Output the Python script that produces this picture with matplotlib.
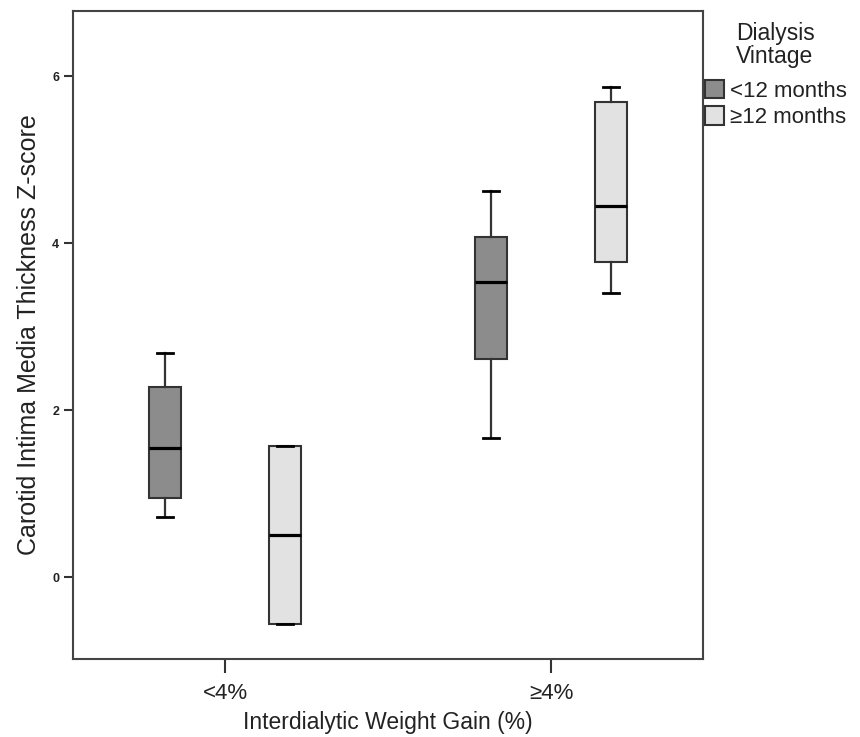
import matplotlib
matplotlib.use("Agg")
import matplotlib.pyplot as plt
from matplotlib.patches import Patch

plt.rcParams['font.family'] = ['Liberation Sans', 'DejaVu Sans']

# ---- data ----
categories = ['<4%', '≥4%']
groups = ['<12 months', '≥12 months']
# <12 months
lt12_whislo = [0.72, 1.67]
lt12_q1 = [0.95, 2.61]
lt12_med = [1.55, 3.54]
lt12_q3 = [2.28, 4.08]
lt12_whishi = [2.68, 4.63]
# >=12 months
ge12_whislo = [-0.56, 3.40]
ge12_q1 = [-0.56, 3.78]
ge12_med = [0.50, 4.44]
ge12_q3 = [1.57, 5.69]
ge12_whishi = [1.57, 5.87]
y_ticks = [0, 2, 4, 6]

colors = ['#8c8c8c', '#e2e2e2']
edge = '#333333'
text_c = '#222222'

fig = plt.figure(figsize=(8.6, 7.37), dpi=100)
ax = fig.add_axes([0.0849, 0.1058, 0.8174 - 0.0849, 0.985 - 0.1058])

offset = 0.184
width = 0.098
series = [
    (lt12_whislo, lt12_q1, lt12_med, lt12_q3, lt12_whishi),
    (ge12_whislo, ge12_q1, ge12_med, ge12_q3, ge12_whishi),
]
for gi, (wl, q1, med, q3, wh) in enumerate(series):
    stats = []
    for ci in range(len(categories)):
        stats.append(dict(whislo=wl[ci], q1=q1[ci], med=med[ci], q3=q3[ci],
                          whishi=wh[ci], fliers=[]))
    pos = [ci + (-offset if gi == 0 else offset) for ci in range(len(categories))]
    ax.bxp(stats, positions=pos, widths=width, capwidths=width / 2,
           patch_artist=True, showfliers=False, manage_ticks=False,
           boxprops=dict(facecolor=colors[gi], edgecolor=edge, linewidth=1.5),
           medianprops=dict(color='black', linewidth=2.3),
           whiskerprops=dict(color=edge, linewidth=1.6),
           capprops=dict(color='black', linewidth=2.0))

ax.set_xlim(-0.466, 1.466)
ax.set_ylim(-0.98, 6.78)
ax.set_xticks(range(len(categories)))
ax.set_xticklabels(categories, fontsize=16, color=text_c)
ax.set_yticks(y_ticks)
ax.set_yticklabels([str(t) for t in y_ticks], fontsize=9, fontweight='bold', color=text_c)
ax.tick_params(axis='y', length=6.5, width=1.5, color='#333333', pad=3.5)
ax.tick_params(axis='x', length=10, width=1.5, color='#333333', pad=7)
for s in ax.spines.values():
    s.set_color('#444444')
    s.set_linewidth(1.5)

ax.set_xlabel('Interdialytic Weight Gain (%)', fontsize=16.5, color=text_c, labelpad=5.5)
ax.set_ylabel('Carotid Intima Media Thickness Z-score', fontsize=18, color=text_c, labelpad=8)

fig.text(775 / 860, 1 - 45 / 737, 'Dialysis\nVintage', ha='center', va='center',
         fontsize=16.5, color=text_c, linespacing=1.0)

handles = [Patch(facecolor=colors[i], edgecolor=edge, linewidth=1.5) for i in range(2)]
leg = fig.legend(handles, groups, loc='upper left',
                 bbox_to_anchor=(705 / 860, 1 - 80 / 737), frameon=False,
                 fontsize=16, handlelength=0.86,
                 handleheight=0.9, handletextpad=0.25, labelspacing=0.2,
                 borderpad=0, borderaxespad=0)
for t in leg.get_texts():
    t.set_color(text_c)

fig.savefig('out.png', dpi=100)
